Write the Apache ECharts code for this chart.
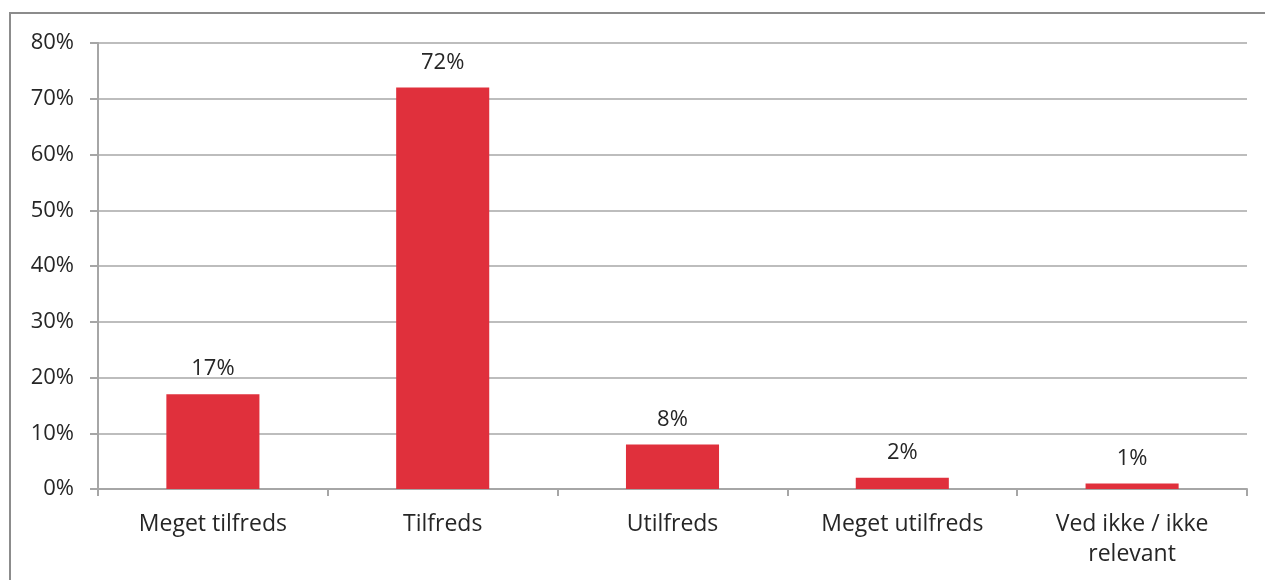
<!DOCTYPE html>
<html>
<head>
<meta charset="utf-8">
<script src="https://cdn.jsdelivr.net/npm/echarts@6/dist/echarts.min.js"></script>
<style>
  html, body { margin: 0; padding: 0; background: #fff; }
  #chart { width: 1265px; height: 580px; }
</style>
</head>
<body>
<div id="chart"></div>
<script>
const categories = ['Meget tilfreds', 'Tilfreds', 'Utilfreds', 'Meget utilfreds', 'Ved ikke / ikke\nrelevant']
const shares = [17, 72, 8, 2, 1]
const yTicks = { min: 0, max: 80, interval: 10 }

const chart = echarts.init(document.getElementById('chart'))
const font = 'Open Sans, Liberation Sans, sans-serif'

chart.setOption({
  animation: false,
  graphic: [{
    type: 'rect',
    shape: { x: 10, y: 13, width: 1300, height: 620 },
    style: { fill: 'none', stroke: '#8c8c8c', lineWidth: 2 },
    silent: true
  }],
  grid: {
    left: 98,
    right: 18,
    top: 43,
    bottom: 91
  },
  xAxis: {
    type: 'category',
    data: categories,
    axisLine: { lineStyle: { color: '#a6a6a6', width: 2 } },
    axisTick: { show: true, length: 7, lineStyle: { color: '#a6a6a6', width: 2 } },
    axisLabel: {
      color: '#262626',
      fontSize: 23,
      fontFamily: font,
      margin: 20,
      lineHeight: 30
    }
  },
  yAxis: {
    type: 'value',
    min: yTicks.min,
    max: yTicks.max,
    interval: yTicks.interval,
    axisLine: { show: true, lineStyle: { color: '#a6a6a6', width: 2 } },
    axisTick: { show: true, length: 8, lineStyle: { color: '#a6a6a6', width: 2 } },
    splitLine: { lineStyle: { color: '#bdbdbd', width: 2 } },
    axisLabel: {
      formatter: '{value}%',
      color: '#262626',
      fontSize: 22,
      fontFamily: font,
      margin: 24
    }
  },
  series: [{
    type: 'bar',
    data: shares,
    barWidth: '40.5%',
    itemStyle: { color: '#e0303c' },
    label: {
      show: true,
      position: 'top',
      distance: 14,
      formatter: '{c}%',
      color: '#262626',
      fontSize: 22,
      fontFamily: font
    }
  }]
})
</script>
</body>
</html>
